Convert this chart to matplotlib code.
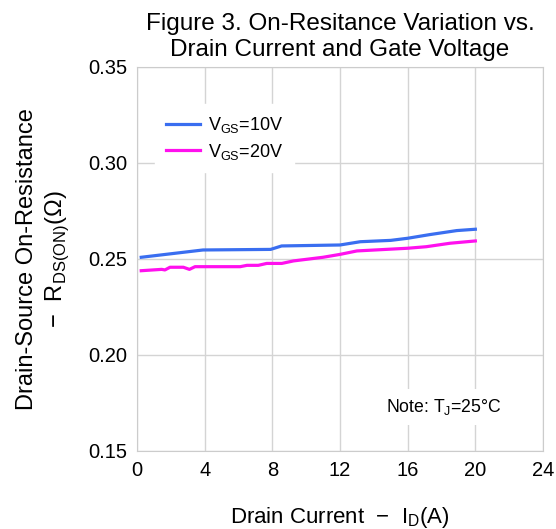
import numpy as np
import matplotlib.pyplot as plt

plt.rcParams['font.family'] = ['Liberation Sans', 'DejaVu Sans']
plt.rcParams['mathtext.fontset'] = 'custom'
plt.rcParams['mathtext.rm'] = 'Liberation Sans'

# V_GS = 10 V curve
id_10 = [0.25, 3.9, 7.9, 8.55, 12.0, 13.2, 15.0, 16.0, 17.3, 18.9, 20.0]
r_10 = [0.2509, 0.2547, 0.2550, 0.2568, 0.2573, 0.2590, 0.2597, 0.2608, 0.2627, 0.2648, 0.2655]

# V_GS = 20 V curve
id_20 = [0.25, 1.46, 1.65, 1.95, 2.74, 3.1, 3.43, 6.1, 6.5, 7.17, 7.67, 8.56,
         9.25, 11.0, 12.0, 13.0, 16.0, 17.1, 18.5, 20.0]
r_20 = [0.2439, 0.2446, 0.2443, 0.2457, 0.2457, 0.2446, 0.2460, 0.2460, 0.2467, 0.2467,
        0.2477, 0.2477, 0.2490, 0.2509, 0.2524, 0.2542, 0.2556, 0.2564, 0.2582, 0.2594]

x_ticks = [0, 4, 8, 12, 16, 20, 24]
y_ticks = [0.15, 0.20, 0.25, 0.30, 0.35]

fig = plt.figure(figsize=(5.56, 5.29), dpi=100)
ax = fig.add_axes([137 / 556, 1 - 451 / 529, (543 - 137) / 556, (451 - 67) / 529])

ax.plot(id_10, r_10, color='#3a6ef0', lw=2.3, label='V$_{\\mathrm{GS}}$=10V')
ax.plot(id_20, r_20, color='#ff10ee', lw=2.3, label='V$_{\\mathrm{GS}}$=20V')

ax.set_xlim(0, 24)
ax.set_ylim(0.15, 0.35)
ax.set_xticks(x_ticks)
ax.set_yticks(y_ticks)
ax.set_yticklabels([f'{v:.2f}' for v in y_ticks])
ax.grid(True, color='#d4d4d4', lw=1)
ax.tick_params(length=0, labelsize=14.5, pad=7)
for s in ax.spines.values():
    s.set_color('#cccccc')

leg = ax.legend(loc='upper left', bbox_to_anchor=(0.022, 0.926), fontsize=13,
                frameon=True, fancybox=False, handlelength=1.9, borderpad=0.6,
                labelspacing=0.35, handletextpad=0.45)
leg.get_frame().set_edgecolor('white')
leg.get_frame().set_facecolor('white')
leg.get_frame().set_alpha(1)

ax.text(0.756, 0.115, 'Note: T$_{\\mathrm{J}}$=25°C', transform=ax.transAxes, fontsize=12.7,
        ha='center', va='center',
        bbox=dict(facecolor='white', edgecolor='none', pad=6))

ax.set_title('Figure 3. On-Resitance Variation vs.\nDrain Current and Gate Voltage',
             fontsize=17.5, pad=8, linespacing=1.25)
ax.set_xlabel('Drain Current  −  I$_{\\mathrm{D}}$(A)', fontsize=16, labelpad=18)
ax.set_ylabel('Drain-Source On-Resistance\n−  R$_{\\mathrm{DS(ON)}}$(Ω)', fontsize=17,
              labelpad=12, linespacing=1.3)

fig.savefig('out.png', dpi=100)
